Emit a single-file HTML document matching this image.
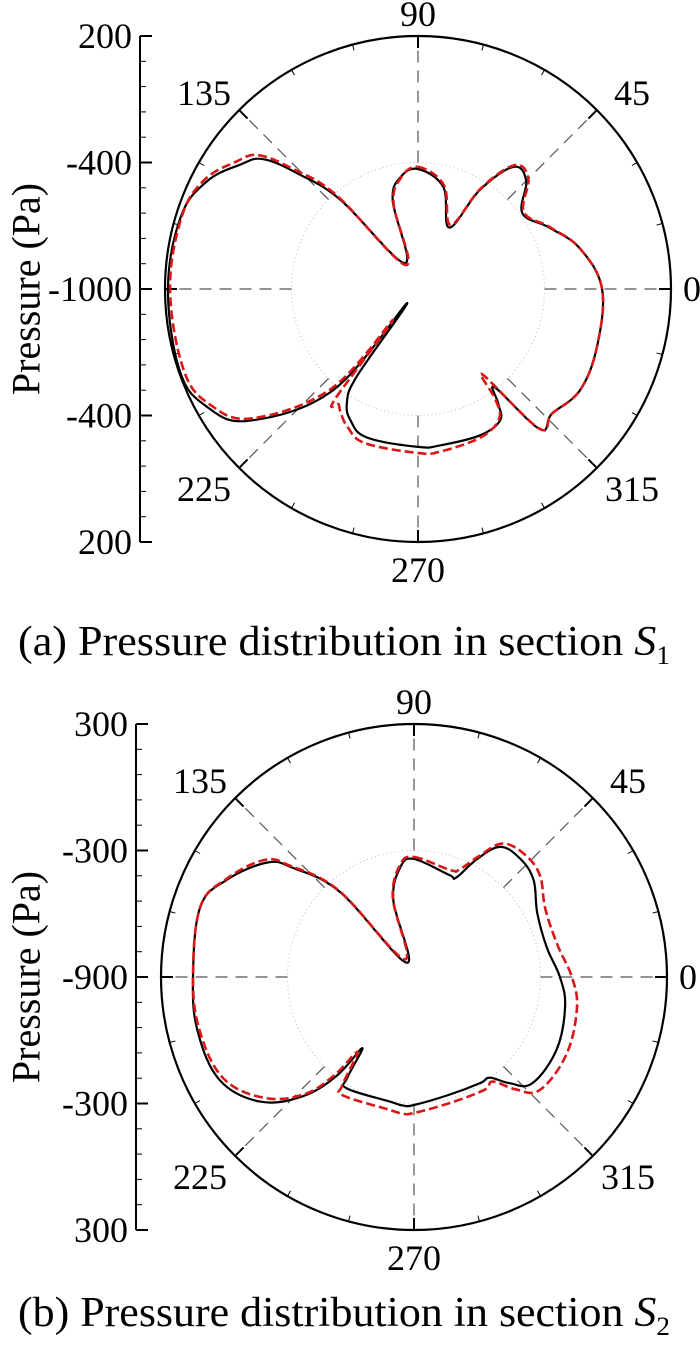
<!DOCTYPE html>
<html><head><meta charset="utf-8">
<style>
html,body{margin:0;padding:0;background:#fff;}
svg{display:block;font-family:"Liberation Serif",serif;}
</style></head>
<body>
<svg id="fig" width="700" height="1346" viewBox="0 0 700 1346" xmlns="http://www.w3.org/2000/svg"></svg>
<script>
// ---- Chart (a) data: section S1 ----
const aAngles = [90,76,63,58,52,45,36,25,14,0,342,328,317,311,308,305,302,293,278,270,251,243,238,235,232,230,218,209,199,180,163,153,145,140,136,131,117,106,99];
const aBlack  = [-431,-502,-673,-445,-265,-274,-388,-312,-208,-127,-108,-94,-132,-118,-407,-336,-265,-246,-251,-251,-255,-298,-364,-492,-915,-374,15,148,195,186,176,124,29,-42,-217,-440,-862,-564,-464];
const aRedAngles = [90,76,63,58,52,45,36,25,14,0,342,328,317,311,307,305,302,293,278,270,251,243,238,235.5,233,231,229,218,209,199,180,163,153,145,140,136,131,117,106,99];
const aRed    = [-421,-492,-659,-436,-255,-260,-379,-308,-208,-127,-108,-94,-132,-123,-492,-360,-274,-236,-222,-222,-227,-265,-308,-336,-345,-810,-374,-4,129,176,176,172,138,53,-13,-184,-412,-872,-578,-469];
const aTicks = ["200","-400","-1000","-400","200"];

// ---- Chart (b) data: section S2 ----
const bAngles = [90,71,67,62,56.5,48,39,27.5,12.7,0,-11,-27,-42,-48,-53,-58,-73,-90,265,259,239,236.5,234,232,227,219,208,194,180,162,152.6,142,138,131,117,105,97];
const bBlack  = [-340,-388,-388,-269,-160,-146,-170,-241,-255,-208,-170,-141,-146,-222,-302,-307,-317,-293,-288,-298,-283,-326,-483,-307,-127,39,143,158,148,167,101,-18,-127,-369,-824,-521,-374];
const bRedAngles = [90,71,67,62,56.5,48,39,27.5,12.7,0,-11,-27,-42,-48,-53,-58,-73,-90,265,259,239,236.5,233,231,227,219,208,194,180,162,152.6,142,138,131,118,105,97];
const bRed    = [-331,-364,-345,-255,-141,-117,-132,-198,-203,-151,-113,-89,-98,-184,-279,-269,-279,-255,-250,-260,-245,-283,-454,-302,-141,11,124,148,148,167,106,1,-113,-359,-805,-511,-364];
const bTicks = ["300","-300","-900","-300","300"];

const NS = "http://www.w3.org/2000/svg";
const svg = document.getElementById('fig');
function mk(tag, attrs, parent){
  const e = document.createElementNS(NS, tag);
  for (const k in attrs) e.setAttribute(k, attrs[k]);
  (parent||svg).appendChild(e);
  return e;
}
function catmull(pts){
  const n = pts.length;
  let d = `M${pts[0][0].toFixed(1)},${pts[0][1].toFixed(1)}`;
  for (let i=0;i<n;i++){
    const p0=pts[(i-1+n)%n], p1=pts[i], p2=pts[(i+1)%n], p3=pts[(i+2)%n];
    const t=0.18;
    const c1=[p1[0]+(p2[0]-p0[0])*t, p1[1]+(p2[1]-p0[1])*t];
    const c2=[p2[0]-(p3[0]-p1[0])*t, p2[1]-(p3[1]-p1[1])*t];
    d+=` C${c1[0].toFixed(1)},${c1[1].toFixed(1)} ${c2[0].toFixed(1)},${c2[1].toFixed(1)} ${p2[0].toFixed(1)},${p2[1].toFixed(1)}`;
  }
  return d+'Z';
}

function drawChart(cfg){
  const {cx, cy, R, pmin, pmax, axisX, angles, black, redAngles, red, ticks, caption, sub, capY, key} = cfg;
  const g = mk('g', {});
  
  
  const rScale = p => (p - pmin) / (pmax - pmin) * R;
  const pt = (a, p) => { const r = rScale(p), t = a*Math.PI/180; return [cx + r*Math.cos(t), cy - r*Math.sin(t)]; };

  const dc = mk('circle', {cx, cy, r:R/2, fill:'none', stroke:'#bbb', 'stroke-width':1, 'stroke-dasharray':'1,3'}, g);
  
  
  for (let a=0;a<360;a+=45){
    const t=a*Math.PI/180;
    const s = mk('line', {x1:cx+R/2*Math.cos(t), y1:cy-R/2*Math.sin(t), x2:cx+R*Math.cos(t), y2:cy-R*Math.sin(t), stroke:'#555', 'stroke-width':1.2, 'stroke-dasharray':'12,8'}, g);
    
    
  }
  const oc = mk('circle', {cx, cy, r:R, fill:'none', stroke:'#000', 'stroke-width':2.2}, g);
  
  
  for (let a=0;a<360;a+=15){
    const t=a*Math.PI/180, major=a%45===0, L=major?12:6;
    mk('line', {x1:cx+R*Math.cos(t), y1:cy-R*Math.sin(t), x2:cx+(R-L)*Math.cos(t), y2:cy-(R-L)*Math.sin(t), stroke:'#000', 'stroke-width':major?2:1}, g);
  }
  const angLabels = [[0, cx+R+12, cy, 'start'], [90, cx, cy-R-22, 'middle'], [270, cx, cy+R+28, 'middle'],
    [45, cx+214, cy-196, 'middle'], [135, cx-214, cy-196, 'middle'], [225, cx-214, cy+200, 'middle'], [315, cx+214, cy+200, 'middle']];
  angLabels.forEach(([a,x,y,anc])=>{
    const tx = mk('text', {x, y, 'font-size':36, 'text-anchor':anc, 'dominant-baseline':'central'}, g);
    tx.textContent = a;
    
    
  });
  const top = cy-R, bot = cy+R;
  const ax = mk('line', {x1:axisX, y1:top, x2:axisX, y2:bot, stroke:'#000', 'stroke-width':2}, g);
  
  
  for (let i=0;i<=20;i++){
    const y = top + i*(2*R)/20, major = i%5===0;
    mk('line', {x1:axisX, y1:y, x2:axisX+(major?12:6), y2:y, stroke:'#000', 'stroke-width':major?2:1}, g);
  }
  ticks.forEach((lab,i)=>{
    const y = top + i*R/2;
    const tx = mk('text', {x:axisX-8, y, 'font-size':36, 'text-anchor':'end', 'dominant-baseline':'central'}, g);
    tx.textContent = lab;
    
    
  });
  const yt = mk('text', {x:0, y:0, 'font-size':40, 'text-anchor':'middle', 'dominant-baseline':'central', transform:`translate(26,${cy}) rotate(-90)`}, g);
  yt.textContent = 'Pressure (Pa)';
  
  

  const bp = mk('path', {d:catmull(angles.map((a,i)=>pt(a, black[i]))), fill:'none', stroke:'#000', 'stroke-width':2.2, 'stroke-linejoin':'round'}, g);
  
  
  const rp = mk('path', {d:catmull(redAngles.map((a,i)=>pt(a, red[i]))), fill:'none', stroke:'#d81818', 'stroke-width':2.6, 'stroke-dasharray':'9,4', 'stroke-linejoin':'round'}, g);
  
  

  const cap = mk('text', {x:18, y:capY, 'font-size':42, 'text-anchor':'start', 'dominant-baseline':'central', textLength:652, lengthAdjust:'spacingAndGlyphs'}, g);
  
  
  cap.appendChild(document.createTextNode(caption+' '));
  const s = mk('tspan', {'font-style':'italic'}, cap); s.textContent='S';
  const sb = mk('tspan', {'font-size':26, dy:13}, cap); sb.textContent=sub;
}

drawChart({key:'a', cx:418, cy:289, R:253, pmin:-1000, pmax:200, axisX:140, angles:aAngles, black:aBlack, redAngles:aRedAngles, red:aRed, ticks:aTicks, caption:'(a) Pressure distribution in section', sub:'1', capY:642});
drawChart({key:'b', cx:414, cy:977, R:253, pmin:-900, pmax:300, axisX:136, angles:bAngles, black:bBlack, redAngles:bRedAngles, red:bRed, ticks:bTicks, caption:'(b) Pressure distribution in section', sub:'2', capY:1313});
</script>
</body></html>
